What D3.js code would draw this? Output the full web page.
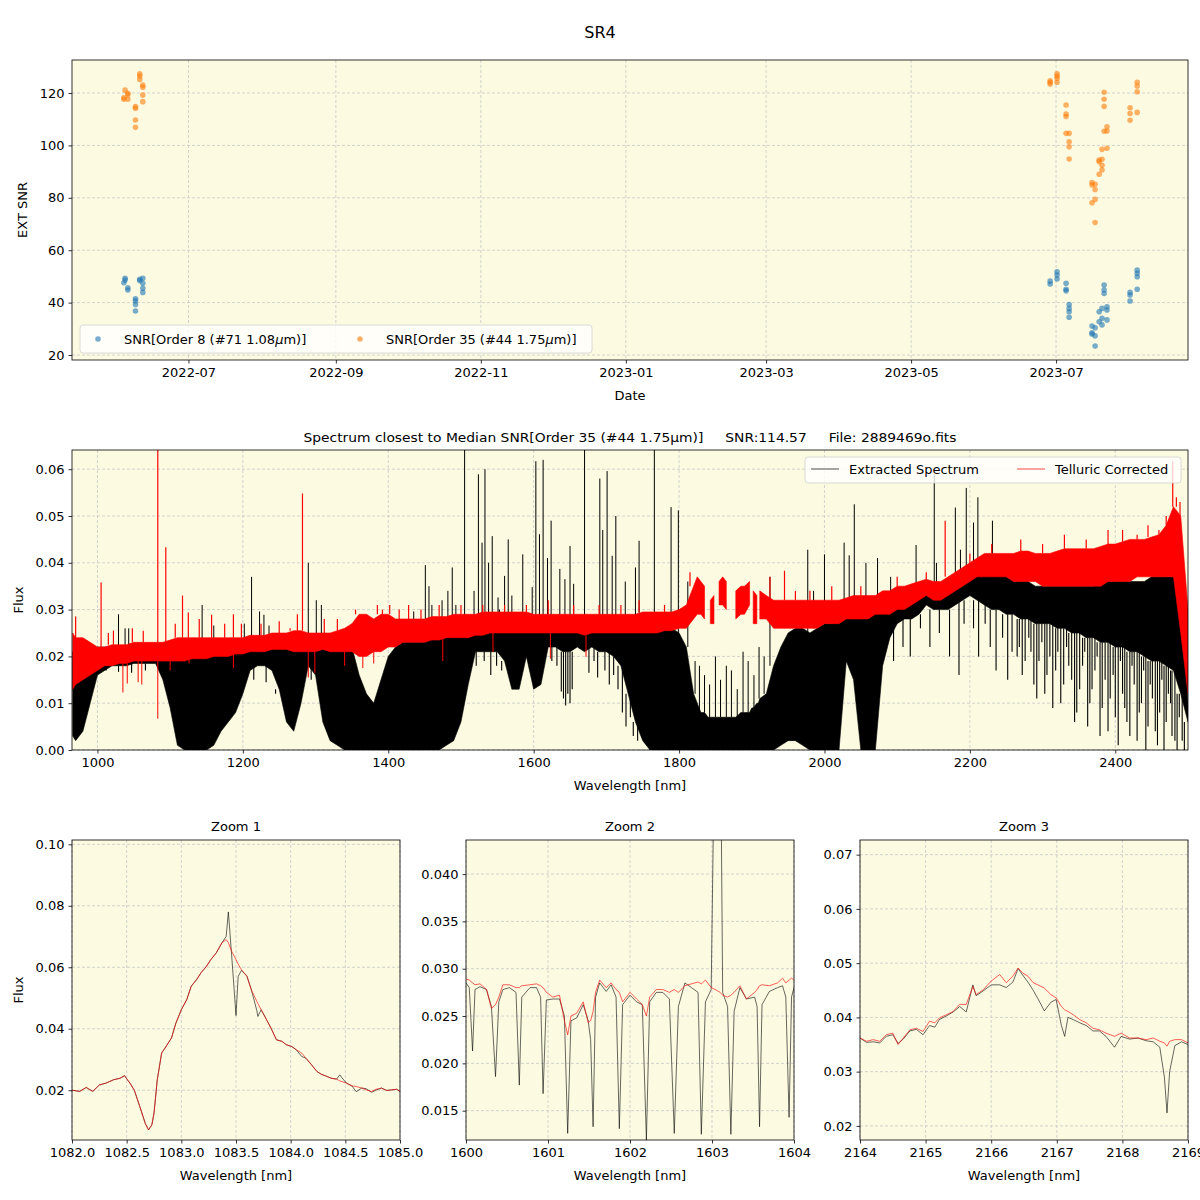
<!DOCTYPE html>
<html><head><meta charset="utf-8">
<script src="https://cdn.jsdelivr.net/npm/d3@7"></script>
<style>body{margin:0;background:#fff} svg{font-family:"DejaVu Sans",sans-serif}</style>
</head><body><svg id="c" width="1200" height="1200"></svg>
<script>
// ---------------- top panel data (EXT SNR vs date) ----------------
const order8Dates = ["2022-06-03T20","2022-06-04T08","2022-06-04T08","2022-06-05T12","2022-06-05T12","2022-06-08T17","2022-06-08T17","2022-06-08T17","2022-06-08T17","2022-06-10T12","2022-06-10T12","2022-06-11T19","2022-06-11T19","2022-06-11T19","2022-06-11T19",
 "2023-06-28T12","2023-06-28T12","2023-07-01T10","2023-07-01T10","2023-07-01T10","2023-07-05T05","2023-07-05T05","2023-07-05T05","2023-07-06T12","2023-07-06T12","2023-07-06T12","2023-07-06T12",
 "2023-07-16T03","2023-07-16T03","2023-07-16T03","2023-07-17T10","2023-07-17T10","2023-07-17T10","2023-07-19T03","2023-07-19T03","2023-07-20T08","2023-07-20T08","2023-07-20T08","2023-07-21T05","2023-07-21T05","2023-07-21T05","2023-07-22T10","2023-07-22T10","2023-07-22T10",
 "2023-08-01T03","2023-08-01T03","2023-08-01T03","2023-08-04T03","2023-08-04T03","2023-08-04T03","2023-08-04T03"];
const order8Snr = [47.6,49.3,48.6,45.7,44.8,41.5,40.7,39.3,36.8,48.9,48.4,49.3,47.4,45.5,43.9,
 48.2,47.1,51.8,50.5,49.0,47.4,45.1,44.5,39.3,37.8,36.5,34.4,
 31.1,28.5,28.0,30.4,27.3,23.4,36.5,32.7,37.8,34.0,31.5,46.7,44.8,43.5,38.4,37.2,33.4,
 43.9,42.9,40.6,52.4,51.2,49.9,45.1];
const order35Dates = ["2022-06-03T20","2022-06-03T20","2022-06-04T08","2022-06-05T12","2022-06-05T12","2022-06-05T12","2022-06-08T17","2022-06-08T17","2022-06-08T17","2022-06-08T17","2022-06-10T12","2022-06-10T12","2022-06-10T12","2022-06-11T19","2022-06-11T19","2022-06-11T19","2022-06-11T19",
 "2023-06-28T12","2023-06-28T12","2023-06-28T12","2023-07-01T10","2023-07-01T10","2023-07-01T10","2023-07-01T10","2023-07-05T05","2023-07-05T05","2023-07-05T05","2023-07-05T05","2023-07-06T12","2023-07-06T12","2023-07-06T12","2023-07-06T12",
 "2023-07-16T03","2023-07-16T03","2023-07-16T03","2023-07-17T10","2023-07-17T10","2023-07-17T10","2023-07-17T10","2023-07-19T03","2023-07-19T03","2023-07-19T03","2023-07-20T08","2023-07-20T08","2023-07-20T08","2023-07-20T08",
 "2023-07-21T05","2023-07-21T05","2023-07-21T05","2023-07-21T05","2023-07-22T10","2023-07-22T10","2023-07-22T10",
 "2023-08-01T03","2023-08-01T03","2023-08-01T03","2023-08-04T03","2023-08-04T03","2023-08-04T03","2023-08-04T03"];
const order35Snr = [117.6,118.2,121.1,119.9,119.3,117.6,114.8,114.2,109.7,106.9,127.3,126.5,125.2,123.0,122.2,119.2,116.7,
 124.7,124.1,123.4,127.3,126.5,125.6,124.1,115.4,112.0,111.0,104.6,104.6,101.4,99.5,94.8,
 85.8,84.9,78.1,85.2,83.2,79.4,70.6,93.8,94.4,89.0,94.7,92.4,90.6,98.5,
 120.3,117.6,114.9,105.4,107.1,105.5,98.9,
 114.4,112.2,109.6,124.1,122.7,120.5,112.6];
const dateTicks = ["2022-07","2022-09","2022-11","2023-01","2023-03","2023-05","2023-07"];

// ---------------- middle panel data (spectrum envelopes) ----------------
const specWl = [966,970,980,990,1000,1010,1020,1030,1040,1050,1060,1070,1080,1090,1100,1110,1120,1130,1140,1150,1160,1170,1180,1190,1200,1210,1220,1230,1240,1250,1260,1270,1280,1290,1300,1310,1320,1330,1340,1350,1360,1370,1380,1390,1400,1410,1420,1430,1440,1450,1460,1470,1480,1490,1500,1510,1520,1530,1540,1550,1560,1570,1580,1590,1600,1610,1620,1630,1640,1650,1660,1670,1680,1690,1700,1710,1720,1730,1740,1750,1760,1770,1780,1790,1800,1810,1820,1825,1830,1835,1840,1843,1848,1850,1855,1860,1865,1870,1878,1885,1890,1897,1900,1902,1907,1909,1911,1920,1930,1940,1950,1960,1970,1980,1990,2000,2010,2020,2030,2040,2050,2060,2070,2080,2090,2100,2110,2120,2130,2140,2150,2160,2170,2180,2190,2200,2210,2220,2230,2240,2250,2260,2270,2280,2290,2300,2310,2320,2330,2340,2350,2360,2370,2380,2390,2400,2410,2420,2430,2440,2450,2460,2470,2480,2490,2500];
const extractedLo = [0.003,0.002,0.004,0.010,0.016,0.017,0.018,0.018,0.018,0.0185,0.0185,0.0185,0.0185,0.015,0.009,0.001,0,0,0,0,0.001,0.004,0.006,0.008,0.012,0.017,0.018,0.018,0.017,0.013,0.006,0.004,0.010,0.018,0.016,0.006,0.002,0.001,0,0,0,0,0,0,0,0,0,0,0,0,0,0,0.001,0.002,0.006,0.014,0.021,0.021,0.021,0.021,0.019,0.013,0.013,0.020,0.013,0.014,0.022,0.022,0.021,0.021,0.022,0.021,0.022,0.021,0.021,0.020,0.018,0.012,0.006,0.002,0,0,0,0,0,0,0,0,0,0,0,0,0,0,0,0,0,0,0,0,0,0,0,0,0,0,0,0,0,0.001,0.002,0.002,0.001,0,0,0,0,0,0.019,0.015,0,0,0,0.018,0.024,0.027,0.028,0.028,0.029,0.031,0.030,0.030,0.030,0.031,0.032,0.033,0.032,0.031,0.030,0.030,0.029,0.029,0.028,0.028,0.027,0.027,0.027,0.026,0.026,0.025,0.025,0.024,0.024,0.023,0.023,0.022,0.022,0.021,0.021,0.020,0.019,0.019,0.018,0.017,0.012,0.006,0];
const extractedHi = [0.021,0.021,0.021,0.021,0.022,0.022,0.022,0.022,0.022,0.022,0.0225,0.0225,0.0225,0.0225,0.022,0.022,0.022,0.021,0.021,0.021,0.022,0.022,0.022,0.022,0.022,0.0225,0.0225,0.023,0.023,0.023,0.023,0.023,0.023,0.0235,0.0235,0.0235,0.024,0.024,0.024,0.022,0.016,0.012,0.010,0.015,0.020,0.022,0.023,0.023,0.023,0.023,0.024,0.024,0.024,0.0245,0.0245,0.025,0.025,0.025,0.0255,0.0255,0.0255,0.0255,0.0255,0.026,0.026,0.026,0.026,0.026,0.026,0.026,0.026,0.026,0.026,0.0265,0.0265,0.0265,0.0265,0.0265,0.0265,0.0265,0.026,0.026,0.026,0.026,0.025,0.022,0.012,0.010,0.008,0.008,0.007,0.007,0.007,0.007,0.007,0.007,0.007,0.007,0.007,0.008,0.008,0.008,0.009,0.009,0.010,0.010,0.011,0.012,0.018,0.022,0.025,0.026,0.026,0.025,0.026,0.027,0.027,0.028,0.029,0.029,0.029,0.029,0.029,0.030,0.030,0.031,0.031,0.032,0.033,0.034,0.034,0.034,0.035,0.036,0.037,0.038,0.038,0.038,0.038,0.038,0.037,0.036,0.036,0.036,0.035,0.035,0.035,0.035,0.035,0.035,0.035,0.035,0.035,0.036,0.036,0.036,0.036,0.036,0.036,0.036,0.037,0.037,0.037,0.037,0.036,0.010];
const telluricLo = [0.013,0.014,0.015,0.016,0.017,0.018,0.018,0.0185,0.0185,0.019,0.019,0.019,0.019,0.019,0.019,0.019,0.019,0.0195,0.0195,0.0195,0.020,0.020,0.020,0.0205,0.0205,0.021,0.021,0.021,0.0215,0.0215,0.0215,0.021,0.021,0.021,0.021,0.0215,0.021,0.021,0.021,0.021,0.020,0.020,0.021,0.021,0.022,0.022,0.023,0.023,0.023,0.023,0.0235,0.0235,0.024,0.024,0.024,0.024,0.0245,0.0245,0.025,0.025,0.025,0.025,0.025,0.025,0.025,0.025,0.025,0.025,0.025,0.025,0.025,0.0245,0.025,0.025,0.025,0.025,0.025,0.025,0.025,0.025,0.025,0.025,0.0255,0.0255,0.026,0.026,0.028,0.029,0.029,0.028,null,0.027,0.027,null,0.031,0.031,0.030,null,0.028,0.029,0.029,0.031,null,0.027,0.027,null,0.028,0.028,0.026,0.026,0.026,0.026,0.026,0.026,0.026,0.027,0.027,0.027,0.028,0.028,0.028,0.028,0.029,0.029,0.029,0.030,0.030,0.031,0.032,0.033,0.032,0.032,0.033,0.034,0.035,0.036,0.037,0.037,0.037,0.037,0.037,0.036,0.036,0.036,0.036,0.035,0.035,0.035,0.035,0.035,0.035,0.035,0.035,0.035,0.036,0.036,0.036,0.036,0.037,0.037,0.037,0.037,0.037,0.037,0.025,0.012];
const telluricHi = [0.025,0.024,0.024,0.023,0.022,0.022,0.0225,0.0225,0.0225,0.023,0.023,0.023,0.023,0.023,0.0235,0.024,0.024,0.024,0.024,0.024,0.024,0.024,0.024,0.024,0.024,0.0245,0.0245,0.0245,0.025,0.025,0.025,0.0255,0.0255,0.025,0.025,0.025,0.025,0.0255,0.026,0.027,0.029,0.029,0.028,0.029,0.029,0.028,0.028,0.028,0.028,0.028,0.0285,0.0285,0.0285,0.029,0.029,0.029,0.029,0.0295,0.0295,0.0295,0.0295,0.0295,0.0295,0.0295,0.029,0.029,0.029,0.029,0.029,0.029,0.029,0.029,0.029,0.029,0.029,0.029,0.029,0.029,0.029,0.0295,0.0295,0.0295,0.0295,0.0295,0.030,0.031,0.035,0.037,0.036,0.035,null,0.032,0.033,null,0.036,0.037,0.036,null,0.034,0.035,0.035,0.036,null,0.034,0.033,null,0.034,0.033,0.032,0.032,0.032,0.032,0.032,0.032,0.032,0.032,0.032,0.032,0.0325,0.033,0.033,0.033,0.033,0.034,0.034,0.035,0.035,0.0355,0.036,0.0365,0.036,0.036,0.037,0.038,0.039,0.040,0.041,0.042,0.042,0.042,0.042,0.042,0.0425,0.0425,0.042,0.042,0.042,0.0425,0.043,0.043,0.043,0.043,0.043,0.0435,0.044,0.044,0.0445,0.045,0.045,0.045,0.0455,0.046,0.048,0.052,0.050,0.030];
// narrow features: [wavelength, flux at tip]
const extractedSpikes = [[1029,0.029],[1038,0.026],[1043,0.026],[1144,0.031],[1160,0.0266],[1202,0.027],[1212,0.037],[1223,0.0296],[1229,0.0289],[1236,0.0266],
 [1290,0.040],[1301,0.032],[1308,0.031],[1435,0.0296],[1451,0.0395],[1456,0.035],[1460,0.031],[1474,0.032],[1482,0.034],[1488,0.039],[1493,0.031],[1505,0.0645],[1518,0.034],[1524,0.0589],[1529,0.0443],[1533,0.060],[1538,0.040],[1543,0.0457],[1551,0.0326],[1553,0.030],[1560,0.0372],[1565,0.045],[1570,0.033],[1585,0.0418],
 [1598,0.0348],[1603,0.0617],[1608,0.0461],[1613,0.062],[1619,0.041],[1624,0.049],[1636,0.0387],[1643,0.0365],[1650,0.0436],[1655,0.0355],[1670,0.0645],[1691,0.058],[1695,0.047],[1701,0.0596],[1708,0.0415],[1713,0.050],[1726,0.036],[1740,0.039],[1745,0.0447],[1766,0.0645],[1789,0.0519],[1799,0.0512],[1812,0.036],
 [1822,0.019],[1828,0.018],[1835,0.016],[1842,0.014],[1850,0.020],[1857,0.015],[1865,0.018],[1872,0.017],[1880,0.013],[1888,0.021],[1895,0.019],[1903,0.016],[1910,0.022],[1917,0.020],
 [1925,0.037],[1977,0.0428],[1985,0.034],[2000,0.0418],[2027,0.0443],[2034,0.0416],[2041,0.0525],[2057,0.040],[2073,0.041],[2091,0.037],[2126,0.0438],[2151,0.0589],[2154,0.040],[2180,0.0518],[2187,0.0428],[2195,0.056],[2205,0.0486],[2211,0.054],[2231,0.049]];
const extractedDips = [[1012,0.0175],[1029,0.0167],[1047,0.0165],[1066,0.017],[1215,0.015],[1232,0.0145],[1245,0.012],[1294,0.015],
 [1521,0.018],[1532,0.019],[1541,0.016],[1549,0.018],[1556,0.017],[1625,0.019],[1632,0.018],[1638,0.0125],[1641,0.011],[1644,0.0095],[1647,0.012],[1650,0.010],[1653,0.013],
 [1676,0.0165],[1683,0.019],[1688,0.0155],[1698,0.017],[1704,0.014],[1710,0.016],[1716,0.013],[1722,0.008],[1727,0.005],[1733,0.007],[1737,0.003],[1743,0.002],
 [2095,0.019],[2108,0.022],[2118,0.020],[2132,0.026],[2145,0.022],[2158,0.025],[2172,0.020],[2185,0.016],[2192,0.027],
 [2205,0.026],[2212,0.020],[2221,0.027],[2228,0.022],[2236,0.017],[2245,0.024],[2252,0.015],[2258,0.021],
 [2265,0.020],[2268,0.022],[2272,0.016],[2276,0.019],[2281,0.024],[2284,0.021],[2288,0.014],[2292,0.011],[2295,0.019],[2299,0.023],[2303,0.012],[2306,0.016],[2310,0.020],[2314,0.009],[2318,0.017],[2321,0.021],[2325,0.010],[2329,0.014],[2333,0.022],[2336,0.018],[2340,0.015],[2344,0.006],[2347,0.008],[2351,0.013],[2355,0.018],[2358,0.021],[2362,0.005],[2365,0.010],[2368,0.013],[2372,0.017],[2375,0.020],[2379,0.003],[2382,0.009],[2386,0.015],[2390,0.004],[2393,0.011],[2397,0.016],[2400,0.007],[2404,0.001],[2407,0.019],[2410,0.012],[2413,0.009],[2416,0.006],[2420,0.003],[2423,0.018],[2426,0.014],[2430,0.002],[2433,0.008],[2436,0.010],[2439,0.017],[2442,0],[2445,0.005],[2448,0.014],[2451,0.011],[2455,0.004],[2458,0.001],[2461,0.008],[2464,0.015],[2467,0],[2470,0.006],[2473,0.012],[2476,0.010],[2478,0.003],[2482,0.002],[2485,0],[2488,0.007],[2492,0.002],[2495,0]];
const telluricSpikes = [[970,0.0285],[1005,0.0358],[1015,0.025],[1022,0.0255],[1048,0.026],[1063,0.0255],[1083,0.0645],[1094,0.0433],[1107,0.027],[1117,0.033],[1125,0.0294],[1140,0.028],[1157,0.0289],[1175,0.027],[1187,0.029],[1198,0.027],[1225,0.027],[1250,0.0275],[1265,0.026],[1275,0.029],
 [1282,0.0548],[1312,0.028],[1330,0.028],[1355,0.030],[1369,0.029],[1385,0.031],[1392,0.030],[1402,0.031],[1415,0.030],[1428,0.031],[1445,0.030],[1470,0.031],[1500,0.031],[1530,0.031],[1560,0.031],[1590,0.031],[1620,0.032],[1655,0.031],[1690,0.031],[1720,0.031],[1745,0.032],[1780,0.031],[1815,0.038],
 [1925,0.037],[1945,0.0383],[1960,0.034],[1980,0.034],[2010,0.035],[2050,0.035],[2100,0.037],[2140,0.038],[2166,0.049],[2200,0.042],[2230,0.044],[2270,0.045],[2300,0.044],[2330,0.046],[2360,0.045],[2390,0.047],[2410,0.047],[2430,0.046],[2445,0.048],[2460,0.047],[2470,0.050],[2479,0.0617],[2484,0.054],[2489,0.053]];
const telluricDips = [[1035,0.0123],[1041,0.0142],[1056,0.0145],[1061,0.014],[1083,0.0067],[1100,0.017],[1126,0.0185],[1187,0.0175],[1290,0.0155],[1299,0.0165],[1340,0.018],[1365,0.0175],[1380,0.0185],[1475,0.019],[1544,0.021],[1623,0.0195],[1672,0.0199]];

// ---------------- zoom panels ----------------
const zoom1Wl = [1082.00,1082.07,1082.13,1082.19,1082.25,1082.31,1082.38,1082.44,1082.48,1082.53,1082.57,1082.62,1082.67,1082.70,1082.73,1082.75,1082.78,1082.82,1082.86,1082.91,1082.95,1083.00,1083.05,1083.09,1083.14,1083.18,1083.23,1083.27,1083.32,1083.37,1083.41,1083.43,1083.46,1083.50,1083.52,1083.55,1083.60,1083.64,1083.69,1083.70,1083.73,1083.78,1083.82,1083.87,1083.92,1083.96,1084.01,1084.05,1084.10,1084.14,1084.19,1084.24,1084.28,1084.33,1084.37,1084.42,1084.45,1084.47,1084.51,1084.56,1084.60,1084.65,1084.69,1084.74,1084.78,1084.83,1084.88,1084.92,1084.97,1085.00];
const zoom1Extracted = [0.0200,0.0196,0.0209,0.0196,0.0217,0.0223,0.0234,0.0239,0.0247,0.0223,0.0200,0.0147,0.0092,0.0071,0.0087,0.0125,0.0234,0.0321,0.0342,0.0370,0.0418,0.0462,0.0495,0.0538,0.0560,0.0582,0.0603,0.0625,0.0647,0.0679,0.0700,0.0780,0.0640,0.0443,0.0570,0.0590,0.0571,0.0527,0.0460,0.0440,0.0462,0.0429,0.0402,0.0364,0.0359,0.0348,0.0342,0.0332,0.0310,0.0304,0.0283,0.0261,0.0252,0.0245,0.0239,0.0236,0.0250,0.0240,0.0223,0.0214,0.0195,0.0207,0.0205,0.0193,0.0200,0.0207,0.0199,0.0201,0.0203,0.0196];
const zoom1Telluric = [0.0200,0.0196,0.0209,0.0196,0.0217,0.0223,0.0234,0.0239,0.0247,0.0223,0.0200,0.0147,0.0092,0.0071,0.0087,0.0125,0.0234,0.0321,0.0342,0.0370,0.0418,0.0462,0.0495,0.0538,0.0560,0.0582,0.0603,0.0625,0.0647,0.0679,0.0690,0.0680,0.0652,0.0625,0.0610,0.0592,0.0571,0.0527,0.0489,0.0482,0.0462,0.0429,0.0402,0.0364,0.0359,0.0348,0.0342,0.0332,0.0321,0.0304,0.0283,0.0261,0.0252,0.0245,0.0239,0.0236,0.0230,0.0228,0.0223,0.0214,0.0212,0.0207,0.0201,0.0196,0.0203,0.0207,0.0199,0.0201,0.0203,0.0196];
const zoom2Wl = [1600.00,1600.04,1600.08,1600.11,1600.17,1600.25,1600.31,1600.36,1600.40,1600.45,1600.53,1600.61,1600.65,1600.68,1600.78,1600.86,1600.91,1600.94,1600.98,1601.06,1601.14,1601.20,1601.24,1601.28,1601.35,1601.43,1601.49,1601.52,1601.55,1601.58,1601.63,1601.71,1601.77,1601.83,1601.87,1601.91,1602.00,1602.08,1602.15,1602.20,1602.24,1602.32,1602.40,1602.48,1602.54,1602.59,1602.67,1602.75,1602.83,1602.87,1602.92,1602.99,1603.04,1603.10,1603.13,1603.19,1603.23,1603.27,1603.34,1603.42,1603.52,1603.55,1603.58,1603.61,1603.70,1603.80,1603.86,1603.90,1603.94,1603.97,1604.00];
const zoom2Extracted = [0.0285,0.0280,0.0213,0.0278,0.0281,0.0278,0.0260,0.0186,0.0265,0.0278,0.0280,0.0275,0.0177,0.0270,0.0280,0.0280,0.0270,0.0168,0.0267,0.0268,0.0268,0.0250,0.0126,0.0245,0.0248,0.0262,0.0245,0.0225,0.0133,0.0270,0.0285,0.0276,0.0283,0.0270,0.0131,0.0262,0.0272,0.0265,0.0262,0.0119,0.0265,0.0275,0.0275,0.0268,0.0126,0.0260,0.0285,0.0280,0.0275,0.0125,0.0265,0.0278,0.0600,0.0600,0.0275,0.0260,0.0125,0.0255,0.0280,0.0268,0.0270,0.0260,0.0133,0.0262,0.0276,0.0280,0.0282,0.0270,0.0143,0.0270,0.0280];
const zoom2Telluric = [0.0289,0.0288,0.0285,0.0283,0.0284,0.0278,0.0258,0.0262,0.0270,0.0283,0.0283,0.0280,0.0280,0.0282,0.0283,0.0284,0.0282,0.0280,0.0275,0.0270,0.0272,0.0245,0.0230,0.0250,0.0253,0.0265,0.0243,0.0245,0.0255,0.0275,0.0288,0.0280,0.0285,0.0278,0.0275,0.0265,0.0275,0.0268,0.0262,0.0250,0.0270,0.0278,0.0278,0.0275,0.0278,0.0275,0.0282,0.0284,0.0286,0.0284,0.0288,0.0280,0.0278,0.0275,0.0272,0.0270,0.0272,0.0275,0.0282,0.0268,0.0275,0.0278,0.0282,0.0283,0.0282,0.0285,0.0290,0.0285,0.0288,0.0290,0.0288];
const zoom3Wl = [2164.00,2164.10,2164.20,2164.30,2164.40,2164.50,2164.58,2164.66,2164.76,2164.86,2164.96,2165.06,2165.14,2165.21,2165.32,2165.42,2165.52,2165.62,2165.72,2165.77,2165.88,2166.00,2166.13,2166.23,2166.33,2166.41,2166.48,2166.56,2166.64,2166.71,2166.81,2166.91,2166.99,2167.07,2167.12,2167.17,2167.25,2167.35,2167.45,2167.55,2167.65,2167.75,2167.88,2167.98,2168.11,2168.24,2168.36,2168.47,2168.57,2168.64,2168.68,2168.72,2168.80,2168.90,2169.00];
const zoom3Extracted = [0.0362,0.0354,0.0355,0.0353,0.0365,0.0368,0.0352,0.0360,0.0375,0.0378,0.0368,0.0385,0.0382,0.0396,0.0403,0.0410,0.0420,0.0410,0.0460,0.0440,0.0449,0.0460,0.0460,0.0455,0.0465,0.0490,0.0478,0.0465,0.0450,0.0435,0.0412,0.0428,0.0433,0.0385,0.0365,0.0400,0.0396,0.0390,0.0385,0.0375,0.0375,0.0365,0.0345,0.0365,0.0360,0.0362,0.0357,0.0355,0.0345,0.0290,0.0224,0.0300,0.0348,0.0355,0.0350];
const zoom3Telluric = [0.0362,0.0356,0.0359,0.0356,0.0368,0.0371,0.0350,0.0362,0.0377,0.0380,0.0374,0.0393,0.0390,0.0399,0.0405,0.0411,0.0424,0.0424,0.0457,0.0442,0.0451,0.0467,0.0479,0.0464,0.0476,0.0491,0.0482,0.0476,0.0464,0.0460,0.0454,0.0442,0.0436,0.0420,0.0414,0.0411,0.0405,0.0396,0.0390,0.0380,0.0377,0.0371,0.0365,0.0371,0.0362,0.0362,0.0359,0.0362,0.0356,0.0353,0.0347,0.0356,0.0359,0.0359,0.0353];

// ---------------- drawing ----------------
const svg = d3.select("#c");
const BG = "#fcfbe2", GRID = "#c8c8c8", FS = 13;
const parse = d3.timeParse("%Y-%m-%dT%H");

function frame(g, box){
  g.append("rect").attr("x",box.l).attr("y",box.t).attr("width",box.r-box.l).attr("height",box.b-box.t).attr("fill",BG);
}
function grid(g, x, y, box, xt, yt){
  const gg = g.append("g").attr("stroke",GRID).attr("stroke-width",0.8).attr("stroke-dasharray","3,2");
  xt.forEach(t=>{const p=x(t); if(p>=box.l-0.5&&p<=box.r+0.5) gg.append("line").attr("x1",p).attr("x2",p).attr("y1",box.t).attr("y2",box.b);});
  yt.forEach(t=>{const p=y(t); if(p>=box.t-0.5&&p<=box.b+0.5) gg.append("line").attr("y1",p).attr("y2",p).attr("x1",box.l).attr("x2",box.r);});
}
function axes(g, x, y, box, xt, yt, xf, yf){
  const ax = g.append("g").attr("transform",`translate(0,${box.b})`).call(d3.axisBottom(x).tickValues(xt).tickFormat(xf).tickSize(3.5).tickPadding(4));
  const ay = g.append("g").attr("transform",`translate(${box.l},0)`).call(d3.axisLeft(y).tickValues(yt).tickFormat(yf).tickSize(3.5).tickPadding(4));
  [ax,ay].forEach(a=>{a.select(".domain").remove(); a.selectAll("text").attr("font-size",FS).attr("fill","#000").attr("font-family","DejaVu Sans"); a.selectAll("line").attr("stroke","#000").attr("stroke-width",0.8);});
  g.append("rect").attr("x",box.l).attr("y",box.t).attr("width",box.r-box.l).attr("height",box.b-box.t).attr("fill","none").attr("stroke","#000").attr("stroke-width",0.8);
}
function clip(id, box){
  svg.append("clipPath").attr("id",id).append("rect").attr("x",box.l).attr("y",box.t).attr("width",box.r-box.l).attr("height",box.b-box.t);
}

svg.append("text").attr("x",600).attr("y",38).attr("text-anchor","middle").attr("font-size",16).text("SR4");

// ---- top panel ----
{
  const box={l:72,r:1188,t:60,b:360};
  const x=d3.scaleTime().domain([new Date(2022,4,13),new Date(2023,7,25,12)]).range([box.l,box.r]);
  const y=d3.scaleLinear().domain([18.1,132.6]).range([box.b,box.t]);
  const g=svg.append("g");
  frame(g,box);
  const xt=dateTicks.map(d=>d3.timeParse("%Y-%m")(d));
  const yt=[20,40,60,80,100,120];
  grid(g,x,y,box,xt,yt);
  clip("cTop",box);
  const pg=g.append("g").attr("clip-path","url(#cTop)");
  pg.selectAll("c8").data(order8Snr).enter().append("circle").attr("cx",(d,i)=>x(parse(order8Dates[i]))).attr("cy",d=>y(d)).attr("r",2.8).attr("fill","#1f77b4").attr("fill-opacity",0.6);
  pg.selectAll("c35").data(order35Snr).enter().append("circle").attr("cx",(d,i)=>x(parse(order35Dates[i]))).attr("cy",d=>y(d)).attr("r",2.8).attr("fill","#ff7f0e").attr("fill-opacity",0.6);
  axes(g,x,y,box,xt,yt,d3.timeFormat("%Y-%m"),d3.format("d"));
  g.append("text").attr("x",630).attr("y",400).attr("text-anchor","middle").attr("font-size",FS).text("Date");
  g.append("text").attr("transform","translate(27,210) rotate(-90)").attr("text-anchor","middle").attr("font-size",FS).text("EXT SNR");
  const lg=g.append("g");
  lg.append("rect").attr("x",80).attr("y",325).attr("width",512).attr("height",28).attr("rx",3).attr("fill","#fff").attr("fill-opacity",0.8).attr("stroke","#d0d0d0").attr("stroke-width",0.8);
  lg.append("circle").attr("cx",98).attr("cy",339).attr("r",2.8).attr("fill","#1f77b4").attr("fill-opacity",0.6);
  lg.append("circle").attr("cx",360).attr("cy",339).attr("r",2.8).attr("fill","#ff7f0e").attr("fill-opacity",0.6);
  const t1=lg.append("text").attr("x",124).attr("y",344).attr("font-size",FS);
  t1.append("tspan").text("SNR[Order 8 (#71 1.08");t1.append("tspan").attr("font-style","italic").text("μ");t1.append("tspan").text("m)]");
  const t2=lg.append("text").attr("x",386).attr("y",344).attr("font-size",FS);
  t2.append("tspan").text("SNR[Order 35 (#44 1.75");t2.append("tspan").attr("font-style","italic").text("μ");t2.append("tspan").text("m)]");
}

// ---- middle panel ----
{
  const box={l:72,r:1188,t:450,b:750};
  const x=d3.scaleLinear().domain([965,2500]).range([box.l,box.r]);
  const y=d3.scaleLinear().domain([0,0.0641]).range([box.b,box.t]);
  const g=svg.append("g");
  frame(g,box);
  const xt=[1000,1200,1400,1600,1800,2000,2200,2400];
  const yt=[0,0.01,0.02,0.03,0.04,0.05,0.06];
  grid(g,x,y,box,xt,yt);
  clip("cMid",box);
  const pg=g.append("g").attr("clip-path","url(#cMid)");
  const idx=w=>d3.bisector(d=>d).center(specWl,w);
  const rows=specWl.map((w,i)=>({w,bl:extractedLo[i],bh:extractedHi[i],rl:telluricLo[i],rh:telluricHi[i]}));
  pg.append("path").datum(rows).attr("fill","#000").attr("stroke","#000").attr("stroke-width",0.6)
    .attr("d",d3.area().x(d=>x(d.w)).y0(d=>y(d.bl)).y1(d=>y(d.bh)));
  pg.selectAll(".bs").data(extractedSpikes).enter().append("line").attr("x1",d=>x(d[0])).attr("x2",d=>x(d[0]))
    .attr("y1",d=>y(extractedHi[idx(d[0])])).attr("y2",d=>y(d[1])).attr("stroke","#000").attr("stroke-width",1);
  pg.selectAll(".bd").data(extractedDips).enter().append("line").attr("x1",d=>x(d[0])).attr("x2",d=>x(d[0]))
    .attr("y1",d=>y(extractedLo[idx(d[0])])).attr("y2",d=>y(d[1])).attr("stroke","#000").attr("stroke-width",1.1);
  pg.append("path").datum(rows).attr("fill","#ff0000").attr("stroke","#ff0000").attr("stroke-width",0.6)
    .attr("d",d3.area().defined(d=>d.rl!=null).x(d=>x(d.w)).y0(d=>y(d.rl)).y1(d=>y(d.rh)));
  pg.selectAll(".rs").data(telluricSpikes).enter().append("line").attr("x1",d=>x(d[0])).attr("x2",d=>x(d[0]))
    .attr("y1",d=>y(telluricHi[idx(d[0])]??0.03)).attr("y2",d=>y(d[1])).attr("stroke","#ff0000").attr("stroke-width",1.2);
  pg.selectAll(".rd").data(telluricDips).enter().append("line").attr("x1",d=>x(d[0])).attr("x2",d=>x(d[0]))
    .attr("y1",d=>y(telluricLo[idx(d[0])]??0.02)).attr("y2",d=>y(d[1])).attr("stroke","#ff0000").attr("stroke-width",1);
  axes(g,x,y,box,xt,yt,d3.format("d"),d3.format(".2f"));
  g.append("text").attr("x",630).attr("y",790).attr("text-anchor","middle").attr("font-size",FS).text("Wavelength [nm]");
  g.append("text").attr("transform","translate(23,600) rotate(-90)").attr("text-anchor","middle").attr("font-size",FS).text("Flux");
  g.append("text").attr("x",630).attr("y",442).attr("text-anchor","middle").attr("font-size",FS).attr("xml:space","preserve").style("white-space","pre")
    .attr("textLength",653).attr("lengthAdjust","spacingAndGlyphs")
    .text("Spectrum closest to Median SNR[Order 35 (#44 1.75μm)]     SNR:114.57     File: 2889469o.fits");
  const lg=g.append("g");
  lg.append("rect").attr("x",805).attr("y",457).attr("width",376).attr("height",26).attr("rx",3).attr("fill","#fff").attr("fill-opacity",0.8).attr("stroke","#d0d0d0").attr("stroke-width",0.8);
  lg.append("line").attr("x1",811).attr("x2",839).attr("y1",469).attr("y2",469).attr("stroke","#000").attr("stroke-width",0.7);
  lg.append("text").attr("x",849).attr("y",474).attr("font-size",FS).text("Extracted Spectrum");
  lg.append("line").attr("x1",1017).attr("x2",1045).attr("y1",469).attr("y2",469).attr("stroke","#ff0000").attr("stroke-width",0.7);
  lg.append("text").attr("x",1055).attr("y",474).attr("font-size",FS).text("Telluric Corrected");
}

// ---- zoom panels ----
function zoomPanel(id, box, xd, yd, xt, yt, xf, yf, wl, ext, tel, title, ylab){
  const x=d3.scaleLinear().domain(xd).range([box.l,box.r]);
  const y=d3.scaleLinear().domain(yd).range([box.b,box.t]);
  const g=svg.append("g");
  frame(g,box);
  grid(g,x,y,box,xt,yt);
  clip(id,box);
  const pg=g.append("g").attr("clip-path",`url(#${id})`);
  const line=arr=>d3.line().x((d,i)=>x(wl[i])).y(d=>y(d))(arr);
  pg.append("path").attr("d",line(ext)).attr("fill","none").attr("stroke","#000").attr("stroke-width",0.7).attr("stroke-opacity",0.85);
  pg.append("path").attr("d",line(tel)).attr("fill","none").attr("stroke","#ff0000").attr("stroke-width",0.7).attr("stroke-opacity",0.9);
  axes(g,x,y,box,xt,yt,xf,yf);
  g.append("text").attr("x",(box.l+box.r)/2).attr("y",box.b+40).attr("text-anchor","middle").attr("font-size",FS).text("Wavelength [nm]");
  g.append("text").attr("x",(box.l+box.r)/2).attr("y",box.t-9).attr("text-anchor","middle").attr("font-size",FS).text(title);
  if(ylab) g.append("text").attr("transform",`translate(23,${(box.t+box.b)/2}) rotate(-90)`).attr("text-anchor","middle").attr("font-size",FS).text(ylab);
}
zoomPanel("cZ1",{l:72,r:400,t:840,b:1140},[1082,1085],[0.0038,0.1014],[1082,1082.5,1083,1083.5,1084,1084.5,1085],[0.02,0.04,0.06,0.08,0.10],d3.format(".1f"),d3.format(".2f"),zoom1Wl,zoom1Extracted,zoom1Telluric,"Zoom 1","Flux");
zoomPanel("cZ2",{l:466,r:794,t:840,b:1140},[1600,1604],[0.0119,0.0436],[1600,1601,1602,1603,1604],[0.015,0.020,0.025,0.030,0.035,0.040],d3.format("d"),d3.format(".3f"),zoom2Wl,zoom2Extracted,zoom2Telluric,"Zoom 2",null);
zoomPanel("cZ3",{l:860,r:1188,t:840,b:1140},[2164,2169],[0.0174,0.0727],[2164,2165,2166,2167,2168,2169],[0.02,0.03,0.04,0.05,0.06,0.07],d3.format("d"),d3.format(".2f"),zoom3Wl,zoom3Extracted,zoom3Telluric,"Zoom 3",null);
</script></body></html>
